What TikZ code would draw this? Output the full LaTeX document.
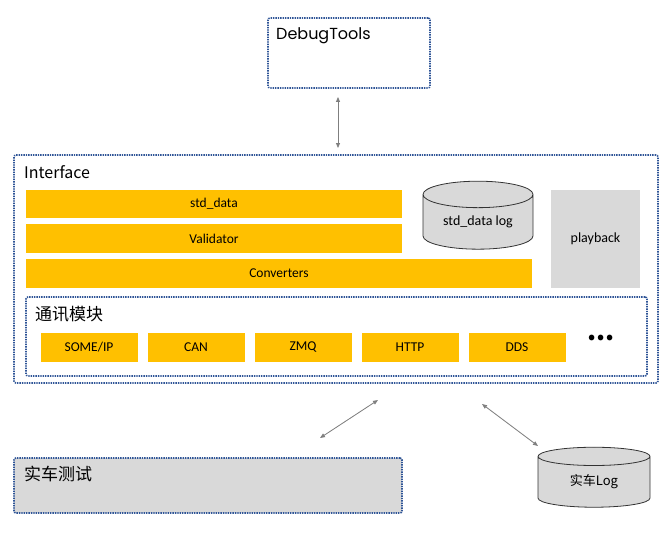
\documentclass[tikz,border=0pt]{standalone}
\usepackage{fontspec}
\setmainfont{Carlito}
\newfontfamily\cjk{Noto Sans CJK SC}
\newfontfamily\popfont{Poppins}
\usetikzlibrary{shapes.geometric,arrows.meta}
\definecolor{barYellow}{HTML}{FFC000}
\definecolor{boxGray}{HTML}{D9D9D9}
\definecolor{dotBlue}{HTML}{2F5597}
\definecolor{linkGray}{HTML}{7F7F7F}
\begin{document}
\begin{tikzpicture}[x=1pt,y=-1pt,
dotbox/.style={draw=dotBlue,line width=1.6pt,dash pattern=on 1.4pt off 1pt,rounded corners=2pt,inner sep=0pt},
bar/.style={fill=barYellow,inner sep=0pt,font=\fontsize{13.5}{15}\selectfont},
grey/.style={fill=boxGray,inner sep=0pt,font=\fontsize{14}{16}\selectfont},
db/.style={cylinder,shape border rotate=90,draw=black!80,thick,fill=boxGray,inner sep=0pt,font=\fontsize{14}{16}\selectfont},
title/.style={anchor=north west,inner sep=0pt,font=\cjk\fontsize{16}{18}\selectfont},
link/.style={{Triangle[length=5pt,width=4pt]}-{Triangle[length=5pt,width=4pt]},draw=linkGray,fill=linkGray,line width=0.8pt}]
\useasboundingbox (0,0) rectangle (660,532);
\node[dotbox,minimum width=162,minimum height=70] (debug) at (349,53) {};
\node[title,font=\popfont\fontsize{16}{18}\selectfont] (debugT) at (276,27) {DebugTools};
\node[dotbox,minimum width=644,minimum height=228] (iface) at (336,269) {};
\node[title] (ifaceT) at (24,165) {Interface};
\node[bar,minimum width=376,minimum height=28] (std) at (214,204) {std\_data};
\node[bar,minimum width=376,minimum height=29] (valid) at (214,238.5) {Validator};
\node[bar,minimum width=506,minimum height=29] (conv) at (279,273.5) {Converters};
\node[db,minimum width=110,minimum height=68,aspect=0.38] (stdlog) at (478,222) {std\_data log};
\node[grey,minimum width=89,minimum height=98] (play) at (595.5,239) {playback};
\node[dotbox,minimum width=621,minimum height=79] (comm) at (336.5,336.5) {};
\node[title,font=\cjk\fontsize{17}{19}\selectfont] (commT) at (35,306) {通讯模块};
\foreach \x/\name in {89/{SOME/IP},196/CAN,303/ZMQ,410/HTTP,517/DDS} {
\node[bar,minimum width=97,minimum height=29] (p\x) at (\x,347.5) {\name};
}
\node[inner sep=0pt,font=\cjk\bfseries\fontsize{26}{26}\selectfont] (more) at (601,338) {...};
\coordinate (a1) at (338,97);
\coordinate (a2) at (338,148);
\draw[link] (a1) -- (a2);
\coordinate (b1) at (378,400);
\coordinate (b2) at (320,438);
\draw[link] (b1) -- (b2);
\coordinate (c1) at (482,404);
\coordinate (c2) at (538,446);
\draw[link] (c1) -- (c2);
\node[dotbox,fill=boxGray,minimum width=388,minimum height=55] (car) at (208,485.5) {};
\node[title,font=\cjk\fontsize{17}{19}\selectfont] (carT) at (24,466) {实车测试};
\node[db,minimum width=112,minimum height=60,aspect=0.38,font=\cjk\fontsize{13}{15}\selectfont] (carlog) at (594,482) {实车Log};
\end{tikzpicture}
\end{document}
